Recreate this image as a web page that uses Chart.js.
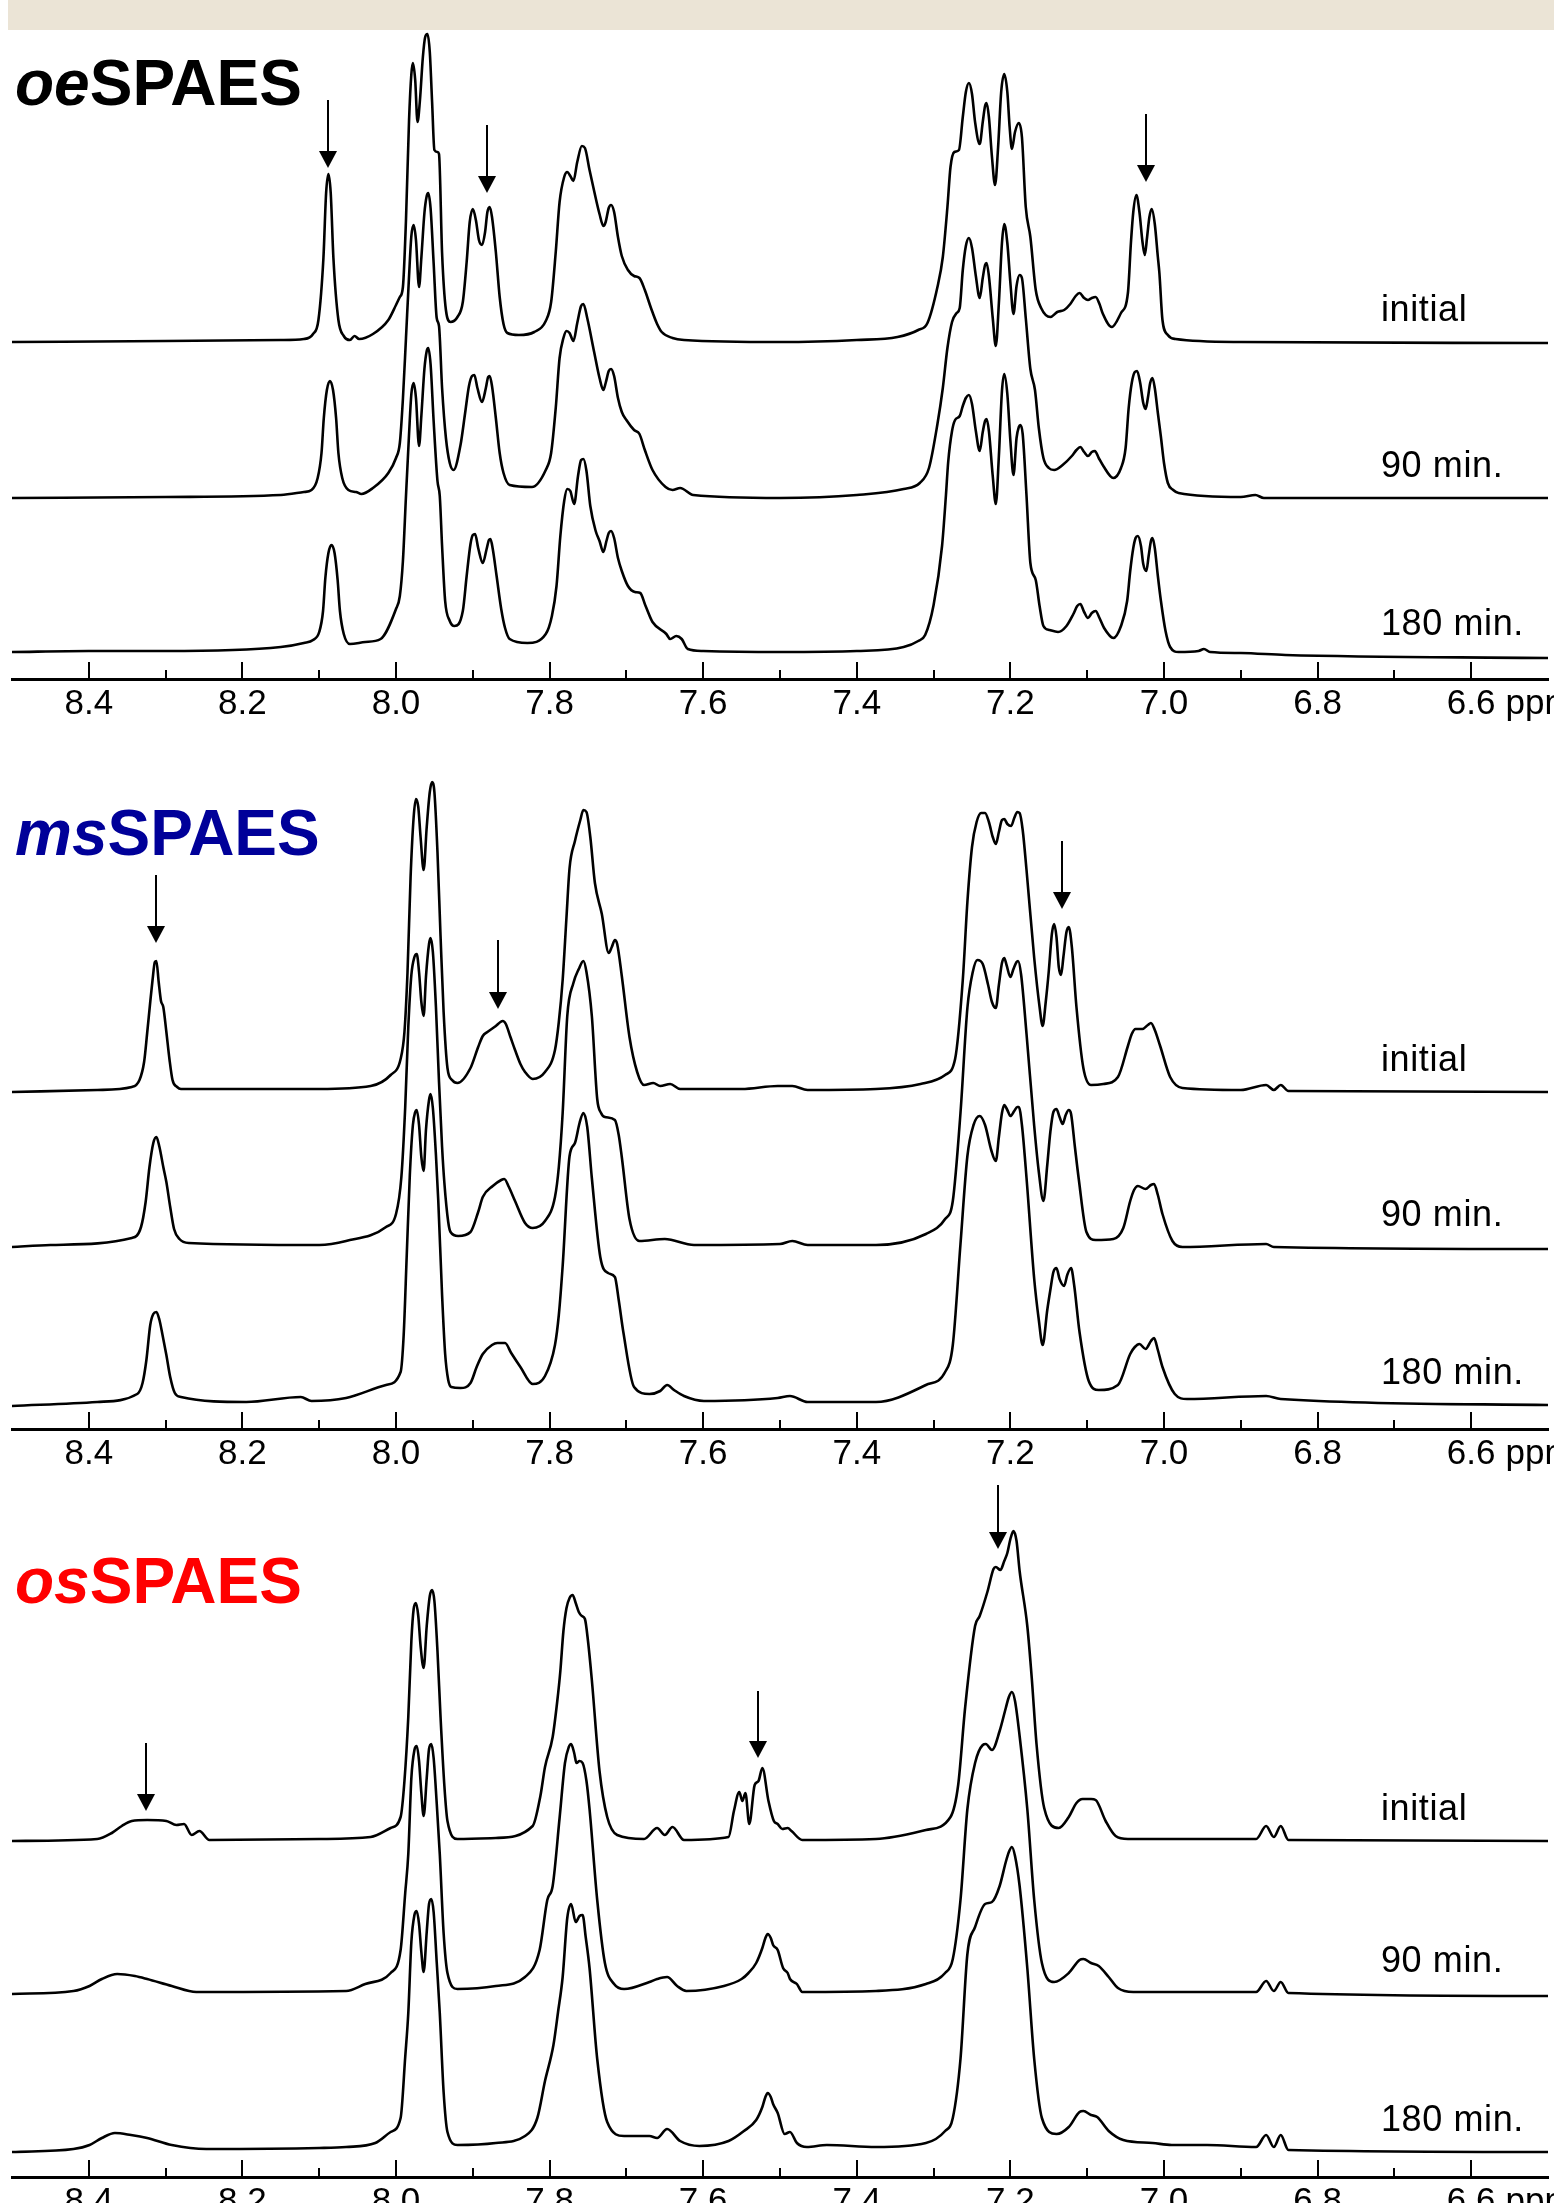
<!DOCTYPE html>
<html>
<head>
<meta charset="utf-8">
<title>SPAES 1H NMR stability</title>
<script src="https://cdn.jsdelivr.net/npm/chart.js@4.4.1/dist/chart.umd.min.js"></script>
<style>
  html, body { margin: 0; padding: 0; background: #fff; }
  body { position: relative; width: 1554px; height: 2203px; overflow: hidden; font-family: "Liberation Sans", Arial, sans-serif; }
  .band { position: absolute; left: 8px; top: 0; width: 1546px; height: 30px; background: #ebe4d6; }
  canvas { position: absolute; left: 0; }
  .title { position: absolute; left: 15px; font-size: 64px; font-weight: bold; line-height: 64px; white-space: nowrap; }
  .title i { font-style: italic; }
  .trace-label { position: absolute; left: 1381px; font-size: 36px; line-height: 36px; letter-spacing: 0.6px; color: #000; white-space: nowrap; }
</style>
</head>
<body>
<div class="band"></div>
<script>
// chemical shift axis (ppm), drawn high -> low
const tickLabels = ['8.4', '8.2', '8.0', '7.8', '7.6', '7.4', '7.2', '7.0', '6.8', '6.6'];
const traceLabels = ['initial', '90 min.', '180 min.'];

// spectra: [ppm, intensity above the trace baseline]
const oeInitial = [[8.50,0],[8.30,1],[8.15,2],[8.12,3],[8.108,8],[8.101,22],[8.0945,84],[8.091,149],[8.088,168],[8.085,149],[8.0815,84],[8.075,22],[8.068,6],[8.060,2],[8.054,6],[8.048,3],[8.030,8],[8.010,22],[8.000,37],[7.995,45],[7.991,55],[7.987,122],[7.983,222],[7.980,268],[7.978,279],[7.975,262],[7.972,220],[7.969,240],[7.965,285],[7.962,305],[7.959,308],[7.956,290],[7.953,240],[7.950,192],[7.946,190],[7.944,188],[7.940,89],[7.935,32],[7.929,20],[7.920,25],[7.913,40],[7.908,80],[7.904,120],[7.900,133],[7.896,122],[7.892,102],[7.888,97],[7.884,110],[7.881,130],[7.878,135],[7.875,125],[7.870,90],[7.865,45],[7.860,18],[7.855,9],[7.840,7],[7.820,10],[7.805,21],[7.798,40],[7.792,90],[7.787,140],[7.781,165],[7.777,170],[7.773,166],[7.769,161],[7.764,180],[7.758,196],[7.754,194],[7.748,172],[7.742,151],[7.735,128],[7.730,116],[7.727,120],[7.723,134],[7.720,137],[7.716,130],[7.711,105],[7.706,86],[7.698,72],[7.690,66],[7.683,64],[7.676,52],[7.668,34],[7.660,18],[7.654,10],[7.640,4],[7.625,2],[7.500,0],[7.400,2],[7.347,5],[7.320,12],[7.308,19],[7.295,55],[7.288,85],[7.282,135],[7.278,175],[7.273,190],[7.267,192],[7.262,225],[7.258,250],[7.254,259],[7.250,248],[7.246,220],[7.240,198],[7.236,220],[7.233,236],[7.231,239],[7.228,225],[7.224,185],[7.220,157],[7.216,195],[7.212,250],[7.208,268],[7.204,250],[7.201,215],[7.198,193],[7.194,210],[7.189,219],[7.185,205],[7.180,135],[7.174,105],[7.167,52],[7.160,34],[7.148,25],[7.139,30],[7.130,32],[7.122,38],[7.115,46],[7.110,49],[7.104,44],[7.099,42],[7.094,44],[7.089,45],[7.084,38],[7.080,29],[7.068,15],[7.056,29],[7.047,49],[7.043,100],[7.040,130],[7.036,147],[7.032,130],[7.028,100],[7.025,87],[7.022,105],[7.019,125],[7.016,133],[7.012,118],[7.008,85],[7.006,69],[7.002,22],[6.995,7],[6.985,3],[6.900,0],[6.500,-1]];
const oe90 = [[8.50,0],[8.30,1],[8.15,3],[8.120,6],[8.110,8],[8.102,20],[8.097,45],[8.094,80],[8.090,108],[8.086,117],[8.082,108],[8.078,80],[8.075,45],[8.070,20],[8.062,8],[8.052,6],[8.045,4],[8.030,10],[8.010,25],[8.000,40],[7.995,55],[7.991,99],[7.987,160],[7.983,222],[7.980,262],[7.977,273],[7.974,258],[7.970,211],[7.967,240],[7.963,285],[7.960,302],[7.958,305],[7.955,290],[7.951,235],[7.947,180],[7.944,172],[7.940,110],[7.935,60],[7.930,35],[7.925,28],[7.916,53],[7.910,85],[7.905,112],[7.901,122],[7.898,123],[7.894,110],[7.888,96],[7.883,110],[7.880,121],[7.878,122],[7.875,112],[7.870,80],[7.865,45],[7.860,25],[7.852,13],[7.823,11],[7.805,28],[7.798,45],[7.792,90],[7.787,140],[7.782,160],[7.778,167],[7.774,165],[7.769,157],[7.764,175],[7.759,192],[7.756,194],[7.751,180],[7.742,146],[7.735,120],[7.730,108],[7.727,115],[7.723,127],[7.720,129],[7.716,122],[7.711,100],[7.706,86],[7.700,78],[7.690,68],[7.683,64],[7.676,48],[7.666,28],[7.649,11],[7.640,8],[7.630,10],[7.613,3],[7.500,0],[7.400,3],[7.339,9],[7.318,15],[7.306,30],[7.295,74],[7.288,110],[7.282,150],[7.276,176],[7.270,185],[7.266,190],[7.262,228],[7.258,252],[7.254,260],[7.250,250],[7.245,222],[7.240,200],[7.236,220],[7.233,233],[7.231,235],[7.228,222],[7.223,180],[7.219,152],[7.215,195],[7.211,255],[7.208,274],[7.204,255],[7.200,215],[7.196,184],[7.192,212],[7.188,223],[7.185,220],[7.180,180],[7.174,129],[7.168,108],[7.163,70],[7.157,40],[7.150,30],[7.143,28],[7.132,33],[7.120,42],[7.114,48],[7.109,51],[7.104,46],[7.099,42],[7.094,46],[7.090,47],[7.085,40],[7.079,32],[7.066,20],[7.056,30],[7.050,50],[7.046,90],[7.042,115],[7.038,126],[7.035,127],[7.031,115],[7.027,95],[7.024,89],[7.021,100],[7.018,115],[7.015,120],[7.012,110],[7.008,85],[7.004,61],[7.000,35],[6.995,15],[6.988,8],[6.981,5],[6.900,1],[6.881,3],[6.870,0],[6.500,0]];
const oe180 = [[8.50,4],[8.40,5],[8.30,5],[8.15,9],[8.120,13],[8.108,16],[8.100,24],[8.095,45],[8.092,78],[8.088,103],[8.084,111],[8.080,103],[8.076,76],[8.073,45],[8.068,22],[8.060,12],[8.040,14],[8.020,17],[8.000,47],[7.995,60],[7.991,95],[7.987,160],[7.983,222],[7.980,262],[7.977,273],[7.974,258],[7.970,210],[7.967,240],[7.963,287],[7.960,305],[7.958,308],[7.955,292],[7.951,235],[7.946,175],[7.943,160],[7.940,110],[7.936,55],[7.930,35],[7.924,30],[7.913,45],[7.908,80],[7.903,112],[7.900,121],[7.897,122],[7.893,108],[7.887,93],[7.882,107],[7.879,116],[7.877,117],[7.874,107],[7.869,80],[7.863,47],[7.858,28],[7.852,17],[7.829,13],[7.805,22],[7.797,40],[7.791,70],[7.786,120],[7.781,155],[7.777,167],[7.773,165],[7.768,152],[7.763,180],[7.759,196],[7.756,197],[7.752,185],[7.747,150],[7.740,125],[7.735,115],[7.730,104],[7.726,115],[7.723,123],[7.720,125],[7.716,118],[7.711,98],[7.706,85],[7.698,70],[7.689,64],[7.682,63],[7.675,50],[7.666,34],[7.648,22],[7.643,17],[7.635,20],[7.628,17],[7.620,7],[7.600,5],[7.500,4],[7.400,5],[7.339,9],[7.320,15],[7.311,21],[7.300,51],[7.289,110],[7.284,160],[7.281,194],[7.276,225],[7.272,236],[7.266,240],[7.262,250],[7.258,258],[7.254,261],[7.250,252],[7.245,225],[7.240,205],[7.236,224],[7.233,235],[7.231,237],[7.228,225],[7.223,180],[7.219,152],[7.215,200],[7.211,265],[7.208,282],[7.204,262],[7.200,215],[7.196,181],[7.192,218],[7.189,229],[7.187,231],[7.184,222],[7.179,160],[7.174,93],[7.167,76],[7.162,50],[7.157,30],[7.149,26],[7.138,24],[7.127,30],[7.118,42],[7.113,50],[7.109,52],[7.104,44],[7.099,38],[7.094,43],[7.089,45],[7.084,38],[7.078,28],[7.066,18],[7.056,30],[7.048,55],[7.044,85],[7.040,108],[7.037,118],[7.034,120],[7.030,110],[7.027,92],[7.023,85],[7.020,100],[7.017,115],[7.015,118],[7.012,108],[7.008,80],[7.004,55],[6.998,25],[6.992,9],[6.981,4],[6.955,5],[6.948,7],[6.940,4],[6.900,3],[6.842,1],[6.500,-2]];

const msInitial = [[8.50,0],[8.389,2],[8.344,5],[8.334,12],[8.328,30],[8.324,59],[8.320,90],[8.317,112],[8.314,130],[8.312,131],[8.309,110],[8.306,91],[8.303,85],[8.299,60],[8.295,33],[8.291,12],[8.285,5],[8.280,3],[8.100,3],[8.033,6],[8.007,17],[7.994,33],[7.989,60],[7.985,120],[7.981,215],[7.977,275],[7.974,293],[7.971,285],[7.968,255],[7.964,222],[7.960,265],[7.956,300],[7.953,310],[7.950,300],[7.946,240],[7.942,156],[7.938,80],[7.933,24],[7.927,12],[7.920,9],[7.903,24],[7.893,45],[7.887,56],[7.881,60],[7.870,66],[7.864,70],[7.861,71],[7.857,68],[7.851,55],[7.845,42],[7.838,28],[7.832,20],[7.822,13],[7.806,20],[7.793,42],[7.788,70],[7.783,112],[7.778,175],[7.774,224],[7.767,251],[7.760,272],[7.756,282],[7.752,280],[7.747,255],[7.741,209],[7.732,178],[7.723,139],[7.719,145],[7.715,152],[7.712,148],[7.706,116],[7.696,55],[7.686,20],[7.677,7],[7.665,9],[7.656,6],[7.643,8],[7.630,3],[7.550,3],[7.503,6],[7.484,6],[7.464,2],[7.375,3],[7.317,8],[7.285,17],[7.272,33],[7.262,112],[7.256,190],[7.250,245],[7.244,270],[7.238,279],[7.233,279],[7.228,270],[7.223,255],[7.219,248],[7.215,260],[7.211,272],[7.208,273],[7.204,268],[7.199,266],[7.195,274],[7.191,280],[7.188,279],[7.184,262],[7.179,222],[7.169,134],[7.162,85],[7.158,66],[7.154,90],[7.150,121],[7.146,158],[7.143,168],[7.140,155],[7.137,125],[7.134,117],[7.131,135],[7.127,160],[7.124,165],[7.120,145],[7.114,85],[7.105,24],[7.095,7],[7.079,8],[7.060,15],[7.047,46],[7.042,58],[7.037,63],[7.028,63],[7.021,67],[7.017,69],[7.012,62],[7.005,46],[6.992,15],[6.976,4],[6.900,2],[6.867,7],[6.857,2],[6.848,7],[6.838,1],[6.500,0]];
const ms90 = [[8.50,0],[8.45,2],[8.344,9],[8.332,20],[8.326,45],[8.321,80],[8.316,104],[8.312,110],[8.308,100],[8.303,80],[8.299,65],[8.294,40],[8.289,18],[8.282,8],[8.270,4],[8.100,2],[8.065,6],[8.013,20],[8.000,33],[7.993,70],[7.988,140],[7.984,220],[7.980,272],[7.976,290],[7.973,293],[7.970,275],[7.967,245],[7.964,231],[7.961,270],[7.957,303],[7.955,309],[7.952,295],[7.948,240],[7.944,165],[7.940,100],[7.937,64],[7.932,25],[7.929,15],[7.919,11],[7.903,15],[7.893,35],[7.887,50],[7.874,61],[7.863,67],[7.859,68],[7.853,60],[7.845,46],[7.832,24],[7.822,19],[7.806,26],[7.793,50],[7.788,80],[7.783,134],[7.777,231],[7.769,264],[7.762,278],[7.756,286],[7.752,275],[7.745,231],[7.738,148],[7.733,134],[7.728,130],[7.715,127],[7.710,112],[7.706,90],[7.696,28],[7.683,6],[7.650,8],[7.612,2],[7.500,3],[7.484,6],[7.464,2],[7.375,2],[7.310,13],[7.285,28],[7.275,46],[7.265,134],[7.256,239],[7.249,275],[7.243,287],[7.236,283],[7.229,262],[7.224,245],[7.219,239],[7.215,262],[7.211,284],[7.208,289],[7.205,282],[7.200,270],[7.196,278],[7.192,285],[7.190,286],[7.186,272],[7.179,213],[7.169,121],[7.163,75],[7.157,46],[7.152,82],[7.148,115],[7.144,135],[7.140,138],[7.136,130],[7.132,123],[7.128,132],[7.124,137],[7.121,133],[7.116,100],[7.111,68],[7.101,15],[7.089,7],[7.066,8],[7.053,19],[7.044,46],[7.039,57],[7.034,61],[7.024,58],[7.017,62],[7.013,63],[7.008,52],[7.002,33],[6.989,6],[6.976,0],[6.867,3],[6.857,0],[6.500,-2]];
const ms180 = [[8.50,-1],[8.389,3],[8.337,11],[8.330,22],[8.325,45],[8.320,80],[8.316,91],[8.312,93],[8.308,85],[8.304,70],[8.299,50],[8.294,28],[8.288,12],[8.280,8],[8.195,3],[8.124,8],[8.110,4],[8.065,7],[8.013,20],[7.994,33],[7.990,70],[7.986,150],[7.982,230],[7.978,280],[7.975,293],[7.973,295],[7.970,280],[7.967,248],[7.964,234],[7.961,275],[7.957,305],[7.955,311],[7.952,297],[7.948,250],[7.945,205],[7.940,110],[7.936,51],[7.932,25],[7.928,18],[7.916,17],[7.903,22],[7.895,38],[7.887,51],[7.875,60],[7.868,62],[7.858,62],[7.850,52],[7.838,38],[7.822,21],[7.806,29],[7.793,60],[7.788,90],[7.783,139],[7.774,249],[7.767,262],[7.761,282],[7.756,292],[7.751,278],[7.745,227],[7.734,148],[7.724,132],[7.715,128],[7.710,105],[7.704,73],[7.690,18],[7.670,11],[7.656,14],[7.647,20],[7.638,15],[7.625,9],[7.599,4],[7.503,7],[7.487,9],[7.464,3],[7.375,3],[7.310,20],[7.285,33],[7.275,60],[7.265,161],[7.256,249],[7.248,280],[7.240,289],[7.233,280],[7.225,255],[7.219,244],[7.215,268],[7.211,292],[7.208,300],[7.204,295],[7.200,289],[7.195,294],[7.191,298],[7.189,298],[7.185,280],[7.179,227],[7.169,126],[7.163,85],[7.158,60],[7.152,95],[7.148,115],[7.144,133],[7.140,137],[7.136,126],[7.130,119],[7.126,130],[7.121,137],[7.117,120],[7.110,73],[7.098,24],[7.085,15],[7.060,20],[7.044,51],[7.038,58],[7.032,61],[7.024,56],[7.017,64],[7.013,67],[7.008,55],[7.002,38],[6.986,11],[6.970,6],[6.867,9],[6.848,6],[6.500,0]];

const osInitial = [[8.50,0],[8.389,2],[8.370,8],[8.357,15],[8.344,20],[8.324,21],[8.299,20],[8.286,16],[8.276,17],[8.266,6],[8.256,10],[8.243,1],[8.100,2],[8.033,4],[8.007,13],[7.994,24],[7.989,60],[7.984,124],[7.980,200],[7.977,232],[7.974,238],[7.971,225],[7.968,195],[7.964,173],[7.960,215],[7.956,245],[7.953,251],[7.950,240],[7.946,190],[7.942,124],[7.937,55],[7.933,20],[7.920,2],[7.870,3],[7.822,15],[7.812,45],[7.806,74],[7.796,104],[7.790,140],[7.786,170],[7.782,210],[7.778,233],[7.774,243],[7.770,246],[7.766,238],[7.762,229],[7.758,225],[7.754,222],[7.750,200],[7.745,161],[7.735,70],[7.725,24],[7.712,6],[7.677,2],[7.660,13],[7.650,6],[7.640,14],[7.625,1],[7.567,4],[7.560,30],[7.553,49],[7.549,40],[7.545,48],[7.540,17],[7.533,56],[7.528,60],[7.523,73],[7.515,40],[7.508,20],[7.503,17],[7.497,12],[7.490,13],[7.485,10],[7.471,1],[7.375,2],[7.310,11],[7.278,24],[7.268,56],[7.259,133],[7.246,215],[7.240,225],[7.230,249],[7.222,272],[7.219,274],[7.213,271],[7.208,280],[7.204,288],[7.200,302],[7.196,310],[7.192,300],[7.188,270],[7.178,215],[7.172,161],[7.166,97],[7.156,33],[7.137,13],[7.124,24],[7.114,38],[7.106,42],[7.095,42],[7.089,41],[7.076,20],[7.063,5],[7.047,2],[6.880,2],[6.867,15],[6.857,4],[6.848,15],[6.838,1],[6.500,0]];
const os90 = [[8.50,-1],[8.42,2],[8.399,7],[8.383,14],[8.363,19],[8.340,17],[8.324,14],[8.292,7],[8.260,1],[8.065,2],[8.040,9],[8.007,20],[7.994,43],[7.988,100],[7.984,139],[7.980,215],[7.976,243],[7.973,247],[7.970,232],[7.967,200],[7.964,177],[7.960,215],[7.957,244],[7.954,249],[7.951,235],[7.947,190],[7.943,139],[7.938,60],[7.933,20],[7.920,4],[7.870,7],[7.832,16],[7.813,43],[7.803,93],[7.796,107],[7.787,175],[7.780,230],[7.775,246],[7.772,249],[7.768,240],[7.765,230],[7.761,232],[7.757,230],[7.752,212],[7.748,184],[7.738,93],[7.728,30],[7.716,9],[7.703,4],[7.670,11],[7.660,14],[7.647,16],[7.634,7],[7.622,2],[7.573,7],[7.550,14],[7.541,20],[7.531,30],[7.523,45],[7.519,55],[7.516,59],[7.512,55],[7.509,48],[7.503,43],[7.496,25],[7.490,20],[7.487,14],[7.478,9],[7.471,1],[7.375,2],[7.310,9],[7.285,20],[7.275,34],[7.265,93],[7.256,184],[7.246,230],[7.236,248],[7.232,249],[7.224,243],[7.214,262],[7.206,285],[7.202,296],[7.198,301],[7.194,292],[7.188,257],[7.178,184],[7.169,93],[7.159,30],[7.143,11],[7.124,20],[7.110,33],[7.105,34],[7.095,30],[7.085,27],[7.072,16],[7.060,5],[7.040,1],[6.880,1],[6.867,12],[6.857,2],[6.848,11],[6.838,0],[6.500,-3]];
const os180 = [[8.50,0],[8.42,3],[8.399,7],[8.383,14],[8.366,19],[8.345,17],[8.324,14],[8.292,7],[8.247,3],[8.100,4],[8.065,5],[8.027,9],[8.007,20],[7.994,34],[7.988,95],[7.984,139],[7.980,210],[7.976,237],[7.973,241],[7.970,228],[7.967,200],[7.964,180],[7.960,220],[7.957,248],[7.954,253],[7.951,240],[7.947,190],[7.943,139],[7.938,60],[7.933,20],[7.920,7],[7.870,9],[7.832,16],[7.816,34],[7.806,71],[7.795,107],[7.789,140],[7.783,175],[7.777,234],[7.772,248],[7.766,230],[7.761,236],[7.757,237],[7.753,215],[7.748,184],[7.738,93],[7.725,30],[7.703,16],[7.670,16],[7.660,14],[7.647,23],[7.630,11],[7.605,6],[7.567,11],[7.547,21],[7.531,32],[7.523,45],[7.519,55],[7.516,59],[7.512,55],[7.509,48],[7.503,39],[7.494,18],[7.487,20],[7.478,9],[7.465,5],[7.439,7],[7.375,5],[7.310,9],[7.285,21],[7.275,34],[7.265,93],[7.256,198],[7.246,225],[7.233,248],[7.224,250],[7.214,266],[7.206,290],[7.202,300],[7.198,305],[7.194,296],[7.188,266],[7.178,184],[7.169,93],[7.159,34],[7.140,18],[7.124,25],[7.110,40],[7.105,41],[7.095,37],[7.087,35],[7.072,21],[7.053,12],[7.015,9],[6.990,7],[6.944,7],[6.880,5],[6.867,17],[6.857,5],[6.848,17],[6.838,2],[6.500,0]];

// vertical stacking of the three runs in each panel
const oeOffsets = [337, 181, 23];
const msOffsets = [337, 182, 24];
const osOffsets = [336, 184, 25];

// marked signals: [ppm, arrow top, arrow tip]
const oeArrows = [[8.088, 579, 511], [7.882, 554, 486], [7.023, 565, 497]];
const msArrows = [[8.313, 554, 486], [7.867, 489, 420], [7.133, 588, 520]];
const osArrows = [[8.326, 434, 366], [7.529, 486, 419], [7.216, 692, 628]];

const FONT = '"Liberation Sans", Arial, sans-serif';
const AXIS_FONT_SIZE = 35;
const PLOT_TOP = 729;   // y units from the ppm axis to the top of each canvas

const panels = [
  { prefix: 'oe', color: '#000000', traces: [oeInitial, oe90, oe180], offsets: oeOffsets, arrows: oeArrows, axisY: 679 },
  { prefix: 'ms', color: '#000099', traces: [msInitial, ms90, ms180], offsets: msOffsets, arrows: msArrows, axisY: 1429 },
  { prefix: 'os', color: '#ff0000', traces: [osInitial, os90, os180], offsets: osOffsets, arrows: osArrows, axisY: 2177 }
];

// short upward ticks: long at labelled positions, short in between, plus the unit
const tickMarks = {
  id: 'tickMarks',
  afterDraw(chart) {
    const scale = chart.scales.x;
    const ctx = chart.ctx;
    const base = chart.chartArea.bottom;
    ctx.save();
    ctx.strokeStyle = '#000';
    ctx.lineWidth = 2;
    scale.ticks.forEach(t => {
      if (t.value > 8.45 || t.value < 6.55) return;
      const major = tickLabels.includes(t.value.toFixed(1));
      const px = Math.round(scale.getPixelForValue(t.value));
      ctx.beginPath();
      ctx.moveTo(px, base);
      ctx.lineTo(px, base - (major ? 17 : 9));
      ctx.stroke();
    });
    // "ppm" follows the last label
    ctx.font = AXIS_FONT_SIZE + 'px ' + FONT;
    ctx.fillStyle = '#000';
    ctx.textAlign = 'left';
    ctx.textBaseline = 'middle';
    const last = tickLabels[tickLabels.length - 1];
    const lx = scale.getPixelForValue(parseFloat(last)) + ctx.measureText(last).width / 2 + 10;
    ctx.fillText('ppm', lx, scale.top + 4 + AXIS_FONT_SIZE * 1.2 / 2);
    ctx.restore();
  }
};

// down arrows over the signals that change
const arrowMarks = {
  id: 'arrowMarks',
  afterDatasetsDraw(chart, args, opts) {
    const { x, y } = chart.scales;
    const ctx = chart.ctx;
    const head = 17;
    ctx.save();
    ctx.strokeStyle = '#000';
    ctx.fillStyle = '#000';
    ctx.lineWidth = 2;
    (opts.items || []).forEach(([ppm, top, tip]) => {
      const px = Math.round(x.getPixelForValue(ppm));
      const yTop = y.getPixelForValue(top);
      const yTip = y.getPixelForValue(tip);
      ctx.beginPath();
      ctx.moveTo(px, yTop);
      ctx.lineTo(px, yTip - head + 1);
      ctx.stroke();
      ctx.beginPath();
      ctx.moveTo(px - 9, yTip - head);
      ctx.lineTo(px + 9, yTip - head);
      ctx.lineTo(px, yTip);
      ctx.closePath();
      ctx.fill();
    });
    ctx.restore();
  }
};

function addText(cls, html, top, color) {
  const el = document.createElement('div');
  el.className = cls;
  el.innerHTML = html;
  el.style.top = top + 'px';
  if (color) el.style.color = color;
  document.body.appendChild(el);
}

panels.forEach(panel => {
  const canvas = document.createElement('canvas');
  canvas.width = 1554;
  canvas.height = 800;
  canvas.style.top = (panel.axisY - PLOT_TOP) + 'px';
  document.body.appendChild(canvas);

  const datasets = panel.traces.map((trace, i) => ({
    label: traceLabels[i],
    data: trace.map(([ppm, v]) => ({ x: ppm, y: v + panel.offsets[i] })),
    showLine: true,
    borderColor: '#000',
    borderWidth: 2.6,
    pointRadius: 0,
    cubicInterpolationMode: 'monotone',
    fill: false
  }));

  new Chart(canvas, {
    type: 'scatter',
    data: { datasets },
    options: {
      responsive: false,
      animation: false,
      events: [],
      layout: { padding: { left: 12, right: 6, top: 0, bottom: 0 } },
      plugins: {
        legend: { display: false },
        tooltip: { enabled: false },
        arrowMarks: { items: panel.arrows }
      },
      scales: {
        x: {
          type: 'linear',
          reverse: true,
          min: 6.5,
          max: 8.5,
          afterFit: scale => { scale.height = 800 - PLOT_TOP; },
          grid: { display: true, drawOnChartArea: false, drawTicks: false },
          border: { display: true, color: '#000', width: 3 },
          ticks: {
            stepSize: 0.1,
            maxTicksLimit: 100,
            autoSkip: false,
            maxRotation: 0,
            padding: 4,
            color: '#000',
            font: { family: FONT, size: AXIS_FONT_SIZE },
            callback: v => {
              const s = v.toFixed(1);
              return tickLabels.includes(s) ? s : '';
            }
          }
        },
        y: { display: false, min: 0, max: PLOT_TOP }
      }
    },
    plugins: [tickMarks, arrowMarks]
  });

  // panel title and run labels
  addText('title', '<i>' + panel.prefix + '</i>SPAES', panel.axisY - 628, panel.color);
  traceLabels.forEach((txt, i) => {
    addText('trace-label', txt, panel.axisY - (panel.offsets[i] + 21) - 30);
  });
});
</script>
</body>
</html>
